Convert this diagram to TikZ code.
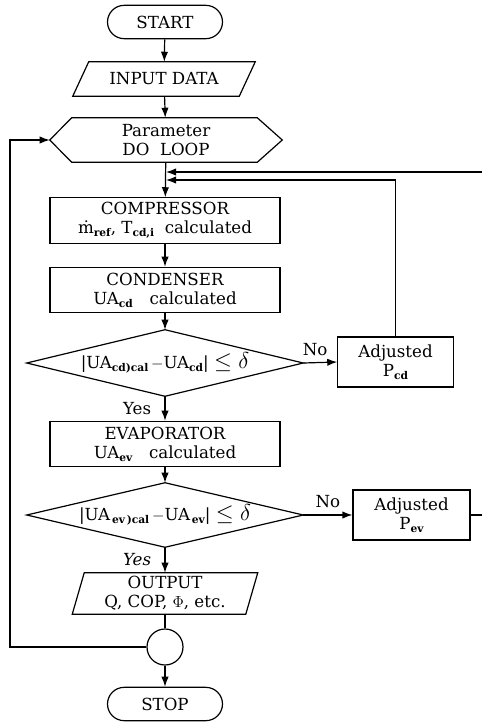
\documentclass[tikz,border=0pt]{standalone}
\usepackage{fontspec}
\setmainfont{DejaVu Serif}
\usetikzlibrary{arrows.meta,calc}
\newcommand\sbs[1]{\raisebox{-0.35ex}{\fontsize{8}{8}\selectfont\bfseries #1}}
\newcommand\ledelta{{\fontsize{16}{16}\selectfont$\leq \delta$}}
\begin{document}
\begin{tikzpicture}[x=0.75pt,y=-0.75pt,
  every node/.style={font=\fontsize{12.5}{14.25}\selectfont, align=center, inner sep=0pt},
  ln/.style={line width=0.9pt},
  arr/.style={line width=0.9pt,-{Latex[length=7.5pt,width=5.5pt]}},
  term/.style={draw,line width=0.9pt,minimum width=86.25pt,minimum height=25pt,rounded corners=12.5pt},
  boxx/.style={draw,line width=0.9pt,minimum width=172.5pt,minimum height=34pt},
  adj/.style={draw,line width=0.9pt,minimum width=86.5pt,minimum height=37.5pt},
  lbl/.style={font=\fontsize{12.5}{14}\selectfont}]
\useasboundingbox (0,0) rectangle (482,722);

% nodes
\node[term] (start) at (165,22) {START};
\node[minimum width=136.5pt,minimum height=25.5pt] (in) at (164,79) {INPUT DATA};
\draw[ln] ($(in.north west)+(16,0)$) -- (in.north east) -- ($(in.south east)+(-16,0)$) -- (in.south west) -- cycle;

\node[minimum width=174pt,minimum height=33pt] (loop) at (166,140) {Parameter\\DO\ \ LOOP};
\draw[ln] (loop.west) -- ($(loop.north west)+(22,0)$) -- ($(loop.north east)+(-25,0)$) -- (loop.east)
  -- ($(loop.south east)+(-25,0)$) -- ($(loop.south west)+(22,0)$) -- cycle;

\node[boxx] (comp) at (165,220.5) {COMPRESSOR\\\.{m}\sbs{ref}, T\sbs{cd,i}\ \ calculated};
\node[boxx] (cond) at (165,290) {CONDENSER\\UA\sbs{cd}\quad calculated};

\node[minimum width=207pt,minimum height=49.5pt] (d1) at (165,363)
  {\textbar UA\sbs{cd)cal}\,$-$UA\sbs{cd}\textbar\ \ledelta};
\draw[ln] (d1.west) -- (d1.north) -- (d1.east) -- (d1.south) -- cycle;

\node[adj] (pcd) at (395.5,362) {Adjusted\\P\sbs{cd}};

\node[boxx] (evap) at (165,444) {EVAPORATOR\\UA\sbs{ev}\quad calculated};

\node[minimum width=207pt,minimum height=48pt] (d2) at (165,515)
  {\textbar UA\sbs{\,ev\,)cal}\,$-$UA\sbs{\,ev}\textbar\ \ledelta};
\draw[ln] (d2.west) -- (d2.north) -- (d2.east) -- (d2.south) -- cycle;

\node[adj, minimum width=87.75pt] (pev) at (411.5,515) {Adjusted\\P\sbs{ev}};

\node[minimum width=138.75pt,minimum height=30.75pt] (out) at (165,593.5) {OUTPUT\\Q, COP, $\Phi$, etc.};
\draw[ln] ($(out.north west)+(12,0)$) -- (out.north east) -- ($(out.south east)+(-12,0)$) -- (out.south west) -- cycle;

\node[draw,line width=0.9pt,circle,minimum size=27pt] (circ) at (165,647) {};
\node[term] (stop) at (165,704) {STOP};

% coordinates
\coordinate (j1) at (166,172);
\coordinate (j2) at (166,180);
\coordinate (e1) at (482,515);
\coordinate (e2) at (482,172);
\coordinate (c1) at (10,647);

% connectors
\draw[arr] (start) -- (in);
\draw[arr] (in) -- (loop);
\draw[arr] (loop) -- (comp);
\draw[arr] (comp) -- (cond);
\draw[arr] (cond) -- (d1.north);
\draw[arr] (d1.east) -- node[above=5pt, pos=0.35, lbl] {No} (pcd.west);
\draw[arr] (pcd.north) |- (j2);
\draw[arr] (d1.south) -- node[left=10pt, lbl] {Yes} (evap.north);
\draw[arr] (evap) -- (d2.north);
\draw[arr] (d2.east) -- node[above=5pt, pos=0.5, lbl] {No} (pev.west);
\draw[ln] (pev.east) -- (e1);
\draw[arr] (e2) -- (j1);
\draw[arr] (d2.south) -- node[left=10pt, lbl] {\itshape Yes} (out.north);
\draw[ln] (out.south) -- (circ.north);
\draw[arr] (circ) -- (stop);
\draw[arr] (circ.west) -- (c1) |- (loop.west);
\end{tikzpicture}
\end{document}
